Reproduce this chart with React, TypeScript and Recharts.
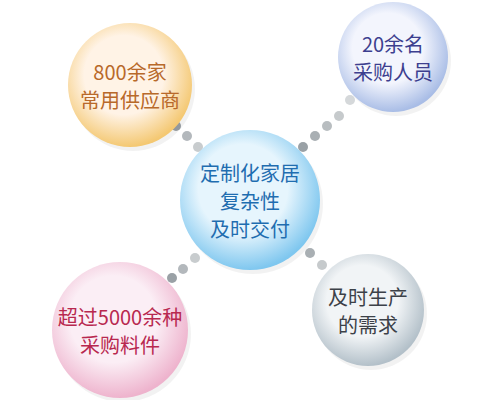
import React from "react";
import { ScatterChart, Scatter, XAxis, YAxis } from "recharts";

const nodeX = [130, 393, 250, 120, 368];
const nodeY = [85, 57, 200, 330, 310];
const nodeR = [62, 55, 70, 68, 56];
const nodeLines = [
  ["800余家", "常用供应商"],
  ["20余名", "采购人员"],
  ["定制化家居", "复杂性", "及时交付"],
  ["超过5000余种", "采购料件"],
  ["及时生产", "的需求"],
];
const nodeText = ["#b8692a", "#3d3f8f", "#1f6db0", "#b8284f", "#3c4148"];
const nodeInner = ["#fff3e6", "#f3f5fd", "#e6f5fd", "#fbeef5", "#f1f4f6"];
const nodeEdge = ["#f4c872", "#a9bde6", "#7fc7ef", "#eeb3cd", "#b3c0c9"];

const dotX = [176, 187, 198, 303, 315, 327, 339, 350, 172, 183, 195, 310, 322];
const dotY = [126, 136, 147, 147, 136, 126, 116, 100, 278, 269, 258, 253, 265];
const dotShade = ["#9aa1a6", "#b3b8bc", "#c8ccce", "#9aa1a6", "#a9afb3", "#b8bdc0", "#c6cacc", "#d5d8da", "#9aa1a6", "#b3b8bc", "#c8ccce", "#a9afb3", "#c6cacc"];

const nodes = nodeX.map((x, i) => ({ x, y: nodeY[i], r: nodeR[i], i }));
const dots = dotX.map((x, i) => ({ x, y: dotY[i], i }));

const NodeShape = (p: any) => {
  const { cx, cy, payload } = p;
  const i = payload.i;
  const lines = nodeLines[i];
  const lh = 28;
  const start = cy - ((lines.length - 1) * lh) / 2;
  return (
    <g>
      <circle cx={cx + 3} cy={cy + 4} r={payload.r} fill="#000" opacity={0.05} />
      <circle cx={cx} cy={cy} r={payload.r} fill={`url(#g${i})`} />
      {lines.map((t, k) => (
        <text key={k} x={cx} y={start + k * lh} textAnchor="middle" dominantBaseline="central"
          fill={nodeText[i]} fontSize={20} fontFamily="Noto Sans CJK SC">{t}</text>
      ))}
    </g>
  );
};

const DotShape = (p: any) => (
  <circle cx={p.cx} cy={p.cy} r={5} fill={dotShade[p.payload.i]} />
);

export default function App() {
  return (
    <div style={{ position: "absolute", left: 0, top: 0, background: "#fff" }}>
      <ScatterChart width={500} height={400} margin={{ top: 0, right: 0, bottom: 0, left: 0 }}>
        <defs>
          {nodeEdge.map((c, i) => (
            <radialGradient key={i} id={`g${i}`} cx="45%" cy="42%" r="58%">
              <stop offset="0%" stopColor={nodeInner[i]} />
              <stop offset="55%" stopColor={nodeInner[i]} />
              <stop offset="100%" stopColor={c} />
            </radialGradient>
          ))}
        </defs>
        <XAxis type="number" dataKey="x" domain={[0, 500]} hide />
        <YAxis type="number" dataKey="y" domain={[0, 400]} reversed hide />
        <Scatter data={dots} shape={DotShape} isAnimationActive={false} />
        <Scatter data={nodes} shape={NodeShape} isAnimationActive={false} />
      </ScatterChart>
    </div>
  );
}
